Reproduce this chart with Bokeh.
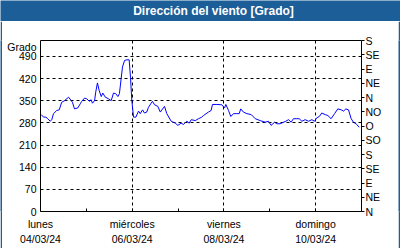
from bokeh.plotting import figure
from bokeh.models import LinearAxis, FixedTicker, Range1d
from bokeh.layouts import column, row
from bokeh.core.properties import value
from bokeh.embed import file_html
from bokeh.resources import INLINE

# hours since Monday 04/03/24 00:00
hours = [0.4, 1.6, 2.8, 3.8, 5.1, 5.9, 6.8, 8.5, 9.8, 11.1, 12.6, 14.7, 16.1, 16.7, 17.8,
         19.5, 20.8, 21.6, 23.0, 24.2, 25.5, 26.5, 27.2, 28.3, 28.9, 29.8, 30.7, 31.8,
         32.6, 33.9, 35.6, 37.0, 38.2, 39.4, 40.5, 41.3, 42.2, 42.9, 44.0, 45.2, 46.4,
         47.1, 47.8, 48.7, 49.9, 51.3, 52.2, 53.4, 54.4, 55.6, 56.5, 57.7, 58.6, 59.7,
         61.4, 62.7, 63.9, 64.9, 66.1, 68.4, 70.5, 71.9, 73.6, 74.8, 76.6, 77.8, 78.9,
         81.0, 82.7, 84.4, 85.3, 87.9, 89.3, 90.0, 92.3, 94.9, 96.3, 97.0, 98.4, 99.6,
         101.0, 102.7, 104.0, 104.8, 106.2, 108.0, 110.3, 112.4, 115.0, 117.6, 119.3,
         120.7, 122.5, 123.7, 125.4, 127.2, 128.4, 129.8, 131.2, 132.4, 134.1, 135.4,
         136.8, 138.5, 140.3, 142.0, 143.4, 144.6, 145.9, 147.2, 149.0, 150.4, 152.1,
         153.9, 155.6, 157.4, 158.6, 159.8, 161.2, 162.6, 163.8, 165.5, 166.8]
direction = [306, 298, 298, 293, 285, 290, 309, 319, 321, 345, 350, 361, 350, 345, 324,
             327, 340, 348, 358, 356, 348, 353, 342, 350, 377, 406, 382, 363,
             374, 361, 356, 350, 374, 372, 363, 372, 419, 456, 477, 479, 479,
             424, 350, 298, 298, 317, 309, 321, 311, 314, 329, 340, 348, 337,
             332, 314, 324, 332, 309, 285, 279, 272, 279, 275, 285, 279, 290,
             287, 293, 298, 303, 314, 319, 338, 338, 337, 327, 338, 319, 300,
             309, 309, 309, 324, 314, 309, 306, 293, 287, 282, 285,
             272, 282, 277, 277, 282, 285, 290, 282, 293, 293, 293,
             285, 290, 285, 290, 285, 296, 300, 311, 306, 303, 293,
             309, 324, 321, 317, 324, 321, 293, 282, 275, 266]

x_major = [0, 48, 96, 144]
x_minor = [24, 72, 120, 168]
x_labels = ["lunes\n04/03/24", "miércoles\n06/03/24", "viernes\n08/03/24", "domingo\n10/03/24"]
y_ticks = [0, 70, 140, 210, 280, 350, 420, 490]
compass_ticks = [0, 45, 90, 135, 180, 225, 270, 315, 360, 405, 450, 495, 540]
compass_labels = ["N", "NE", "E", "SE", "S", "SO", "O", "NO", "N", "NE", "E", "SE", "S"]
title_text = ["Dirección del viento [Grado]"]
unit_text = "Grado"

BLUE = "#1c5e98"
FONT = "Liberation Sans"
FS = "10.5px"
UNIT_POS = 521  # vertical position of the unit caption on the left axis


def strip(w, h):
    s = figure(width=w, height=h, output_backend="svg", toolbar_location=None,
               x_axis_location=None, y_axis_location=None,
               min_border=0, min_border_left=0, min_border_right=0,
               min_border_top=0, min_border_bottom=0)
    s.background_fill_color = BLUE
    s.border_fill_color = BLUE
    s.outline_line_color = None
    s.grid.visible = False
    return s


# title bar
t = figure(width=400, height=21, output_backend="svg", toolbar_location=None,
           x_range=Range1d(0, 400), y_range=Range1d(0, 21),
           x_axis_location=None, y_axis_location=None,
           min_border=0, min_border_left=0, min_border_right=0,
           min_border_top=0, min_border_bottom=0)
t.background_fill_color = BLUE
t.border_fill_color = BLUE
t.outline_line_color = None
t.grid.visible = False
t.text(x=[213], y=[11], text=title_text, text_align="center", text_baseline="middle",
       text_color="white", text_font=value(FONT), text_font_size="12px",
       text_font_style="bold")

# main chart
p = figure(width=396, height=227, output_backend="svg", toolbar_location=None,
           x_range=Range1d(0, 168), y_range=Range1d(0, 540),
           x_axis_location=None, y_axis_location=None,
           min_border_left=38, min_border_right=37, min_border_top=19, min_border_bottom=37,
           frame_width=321, frame_height=171)
p.background_fill_color = "white"
p.border_fill_color = "white"
p.outline_line_color = "black"
p.outline_line_width = 1

p.line(hours, direction, line_color="#0000ff", line_width=1)

left_overrides = {UNIT_POS: unit_text}
left = LinearAxis(ticker=FixedTicker(ticks=y_ticks + [UNIT_POS], minor_ticks=[]),
                  major_label_overrides=left_overrides)
left.axis_line_color = None
left.major_tick_out = 0
left.major_tick_in = 0
left.major_label_standoff = 4
left.major_label_text_font = FONT
left.major_label_text_font_size = FS
left.major_label_text_color = "black"
p.add_layout(left, "left")

right = LinearAxis(ticker=FixedTicker(ticks=compass_ticks, minor_ticks=[]),
                   major_label_overrides={t_: l for t_, l in zip(compass_ticks, compass_labels)})
right.axis_line_color = None
right.major_tick_out = 3
right.major_tick_in = 0
right.major_tick_line_color = "black"
right.major_label_standoff = 1
right.major_label_text_font = FONT
right.major_label_text_font_size = FS
right.major_label_text_color = "black"
p.add_layout(right, "right")

bottom = LinearAxis(ticker=FixedTicker(ticks=x_major, minor_ticks=x_minor),
                    major_label_overrides={t_: l for t_, l in zip(x_major, x_labels)})
bottom.axis_line_color = None
bottom.major_tick_out = 0
bottom.major_tick_in = 3
bottom.minor_tick_out = 0
bottom.minor_tick_in = 3
bottom.major_tick_line_color = "black"
bottom.minor_tick_line_color = "black"
bottom.major_label_standoff = 6
bottom.major_label_text_font = FONT
bottom.major_label_text_font_size = FS
bottom.major_label_text_color = "black"
bottom.major_label_text_line_height = 1.3
p.add_layout(bottom, "below")

p.xgrid.ticker = FixedTicker(ticks=[48, 96, 144])
p.ygrid.ticker = FixedTicker(ticks=y_ticks[1:])
for g in (p.xgrid, p.ygrid):
    g.grid_line_color = "black"
    g.grid_line_dash = "3 3"
    g.grid_line_width = 1

layout = column(t, row(strip(2, 227), p, strip(2, 227)), strip(400, 2))
open("out.html", "w").write(file_html(layout, INLINE))
